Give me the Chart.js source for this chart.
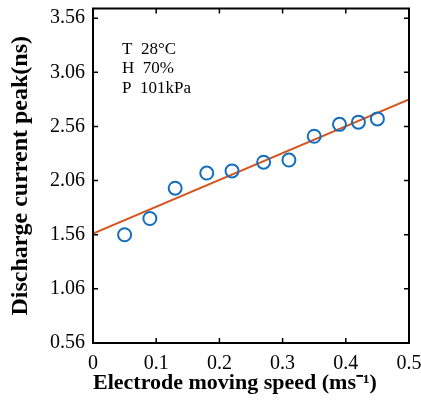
<!DOCTYPE html>
<html>
<head>
<meta charset="utf-8">
<script src="https://cdn.jsdelivr.net/npm/chart.js@4.4.1/dist/chart.umd.min.js"></script>
<style>
  html, body { margin: 0; padding: 0; background: #fff; }
  canvas { display: block; }
</style>
</head>
<body>
<canvas id="peakChart" width="421" height="401"></canvas>
<script>
// Measured points
const speeds = [0.05, 0.09, 0.13, 0.18, 0.22, 0.27, 0.31, 0.35, 0.39, 0.42, 0.45];
const peaks = [1.56, 1.71, 1.99, 2.13, 2.15, 2.23, 2.25, 2.47, 2.58, 2.60, 2.63];

// Fitted line end points
const fitX = [0, 0.5];
const fitY = [1.57, 2.81];

// Axis ticks
const xTicks = [0, 0.1, 0.2, 0.3, 0.4, 0.5];
const yTicks = [0.56, 1.06, 1.56, 2.06, 2.56, 3.06, 3.56];

// Conditions note
const noteLines = ['T  28\u00B0C', 'H  70%', 'P  101kPa'];

const serif = "'Liberation Serif', 'Times New Roman', serif";

// Box frame with inward tick marks (MATLAB style)
const boxPlugin = {
    id: 'boxFrame',
    afterDraw(chart) {
        const ctx = chart.ctx;
        const a = chart.chartArea;
        const xs = chart.scales.x;
        const ys = chart.scales.y;
        const len = 5;
        ctx.save();
        ctx.strokeStyle = '#000';
        ctx.lineWidth = 2;
        ctx.strokeRect(a.left, a.top, a.right - a.left, a.bottom - a.top);
        ctx.lineWidth = 1.5;
        ctx.beginPath();
        xTicks.forEach(function(v) {
            const px = xs.getPixelForValue(v);
            ctx.moveTo(px, a.bottom);
            ctx.lineTo(px, a.bottom - len);
            ctx.moveTo(px, a.top);
            ctx.lineTo(px, a.top + len);
        });
        yTicks.forEach(function(v) {
            const py = ys.getPixelForValue(v);
            ctx.moveTo(a.left, py);
            ctx.lineTo(a.left + len, py);
            ctx.moveTo(a.right, py);
            ctx.lineTo(a.right - len, py);
        });
        ctx.stroke();

        // note text
        ctx.fillStyle = '#000';
        ctx.font = '17px ' + serif;
        ctx.textAlign = 'left';
        ctx.textBaseline = 'middle';
        noteLines.forEach(function(t, i) {
            ctx.fillText(t, a.left + 29, a.top + 41 + i * 19.5);
        });
        ctx.restore();
    }
};

const ctx = document.getElementById('peakChart').getContext('2d');
const peakChart = new Chart(ctx, {
    type: 'scatter',
    data: {
        datasets: [{
            label: 'Fit',
            type: 'line',
            data: fitX.map((x, i) => ({ x: x, y: fitY[i] })),
            borderColor: 'rgb(214, 84, 30)',
            borderWidth: 2,
            pointRadius: 0,
            fill: false,
            order: 2
        }, {
            label: 'Measured',
            data: speeds.map((x, i) => ({ x: x, y: peaks[i] })),
            pointStyle: 'circle',
            pointRadius: 6.5,
            pointBorderWidth: 2,
            pointBackgroundColor: 'rgba(0,0,0,0)',
            pointBorderColor: 'rgb(20, 110, 190)',
            order: 1
        }]
    },
    options: {
        responsive: false,
        animation: false,
        layout: {
            padding: { left: 0, right: 12, top: 3, bottom: 0 }
        },
        scales: {
            x: {
                type: 'linear',
                min: 0,
                max: 0.5,
                afterFit: function(s) {
                    s.height = 58;
                    s.paddingLeft = 0;
                    s.paddingRight = 0;
                },
                afterBuildTicks: function(s) { s.ticks = xTicks.map(v => ({ value: v })); },
                grid: { display: false, drawTicks: false },
                border: { display: false },
                ticks: {
                    padding: 9,
                    color: '#000',
                    font: { family: serif, size: 20 },
                    maxRotation: 0,
                    callback: function(v) { return String(v); }
                },
                title: {
                    display: true,
                    align: 'start',
                    text: 'Electrode moving speed (ms\u207B\u00B9)',
                    color: '#000',
                    font: { family: serif, size: 22, weight: 'bold' },
                    padding: { top: 0, bottom: 4 }
                }
            },
            y: {
                type: 'linear',
                min: 0.56,
                max: 3.65,
                afterFit: function(s) {
                    s.width = 93;
                    s.paddingTop = 0;
                    s.paddingBottom = 0;
                },
                afterBuildTicks: function(s) { s.ticks = yTicks.map(v => ({ value: v })); },
                grid: { display: false, drawTicks: false },
                border: { display: false },
                ticks: {
                    padding: 8,
                    color: '#000',
                    font: { family: serif, size: 20 },
                    callback: function(v) { return v.toFixed(2); }
                },
                title: {
                    display: true,
                    text: 'Discharge current peak(ns)',
                    color: '#000',
                    font: { family: serif, size: 24, weight: 'bold' },
                    padding: { top: 6, bottom: 0 }
                }
            }
        },
        plugins: {
            legend: { display: false },
            tooltip: { enabled: false }
        }
    },
    plugins: [boxPlugin]
});
</script>
</body>
</html>
